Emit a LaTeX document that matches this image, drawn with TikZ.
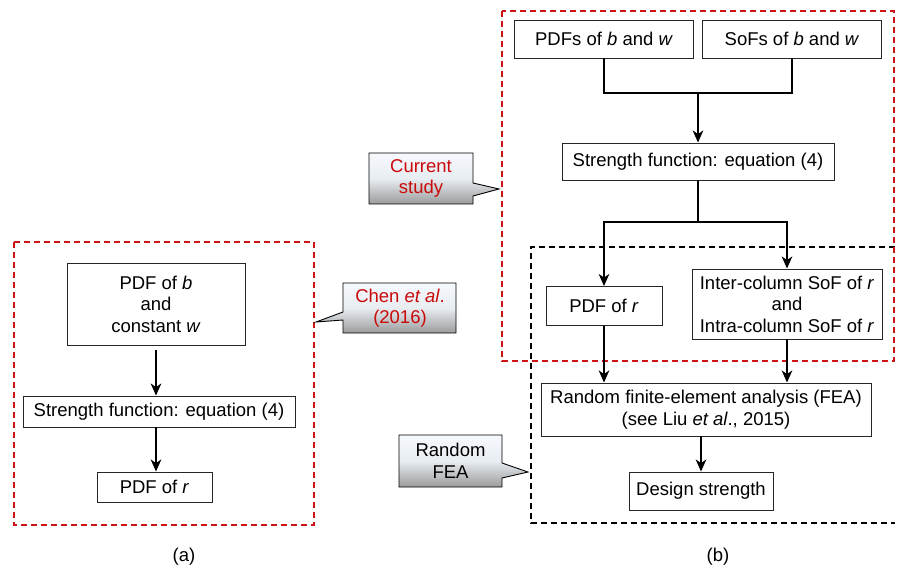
\documentclass[tikz,border=0pt]{standalone}
\usepackage{fontspec}
\setmainfont{Liberation Sans}
\usetikzlibrary{arrows.meta}
\definecolor{dashred}{RGB}{204,20,20}
\definecolor{txtred}{RGB}{200,10,10}
\definecolor{calltop}{RGB}{246,249,253}
\definecolor{callmid}{RGB}{232,237,242}
\definecolor{callbot}{RGB}{155,155,155}
\begin{document}
\begin{tikzpicture}[x=1pt,y=-1pt,
  every node/.style={font=\fontsize{18.5}{21.5}\selectfont, inner sep=0pt},
  box/.style={draw=black!85, line width=0.9pt, fill=white, align=center},
  conn/.style={line width=2.1pt},
  arr/.style={conn, -{Stealth[length=12pt,width=10.5pt,inset=3.5pt]}},
  reddash/.style={draw=dashred, line width=1.5pt, dash pattern=on 6pt off 4pt},
  blackdash/.style={draw=black, line width=1.5pt, dash pattern=on 6pt off 4pt},
  callout/.style={draw=black, line width=0.9pt, top color=calltop, bottom color=callbot, middle color=callmid},
  lbl/.style={align=center}
]
\useasboundingbox (0,0) rectangle (899,569);

% dashed frames
\draw[reddash] (14,242) rectangle (314,525);
\draw[blackdash] (895,247) -- (531,247) -- (531,523) -- (895,523);
\draw[reddash] (502,11) rectangle (894,361);

% (a) panel
\node[box, minimum width=178pt, minimum height=82pt] (lb1) at (156,304) {PDF of \textit{b}\\and\\constant \textit{w}};
\node[box, minimum width=272pt, minimum height=31pt] (ls) at (159,411.5) {Strength function: equation (4)};
\node[box, minimum width=115pt, minimum height=30pt] (lr) at (154.5,487) {PDF of \textit{r}};
\draw[arr] (lb1.south |- 0,350) -- (lb1.south |- ls.north);
\draw[arr] (lb1.south |- ls.south) -- (lb1.south |- lr.north);

% (b) panel
\node[box, minimum width=179pt, minimum height=38pt] (pdfs) at (604,39) {PDFs of \textit{b} and \textit{w}};
\node[box, minimum width=179pt, minimum height=38pt] (sofs) at (792,39) {SoFs of \textit{b} and \textit{w}};
\node[box, minimum width=272pt, minimum height=37pt] (rs) at (698,161.5) {Strength function: equation (4)};
\node[box, minimum width=116pt, minimum height=39pt] (pdfr) at (604,306) {PDF of \textit{r}};
\node[box, minimum width=190pt, minimum height=70pt] (inter) at (787,304) {Inter-column SoF of \textit{r}\\and\\Intra-column SoF of \textit{r}};
\node[box, minimum width=330pt, minimum height=53pt] (fea) at (706,409.5) {Random finite-element analysis (FEA)\\(see Liu \textit{et al}., 2015)};
\node[box, minimum width=144pt, minimum height=38pt] (design) at (701,491) {Design strength};

\coordinate (j1) at (rs.north |- 0,93);
\draw[conn] (pdfs.south) |- (j1) -| (sofs.south);
\draw[arr] (j1) -- (rs.north);
\coordinate (j2) at (rs.south |- 0,222);
\draw[conn] (rs.south) -- (j2);
\draw[arr] (j2) -| (pdfr.north);
\draw[arr] (j2) -| (inter.north);
\draw[arr] (pdfr.south) -- (pdfr.south |- fea.north);
\draw[arr] (inter.south) -- (inter.south |- fea.north);
\draw[arr] (design.north |- fea.south) -- (design.north);

% callouts
\path[callout] (369,153) -- (473,153) -- (473,183) -- (499,189) -- (473,196) -- (473,204) -- (369,204) -- cycle;
\node[lbl, text=txtred] (cur) at (421,178.5) {Current\\study};

\path[callout] (343,283) -- (456,283) -- (456,333) -- (343,333) -- (343,320) -- (316,322) -- (343,312) -- cycle;
\node[lbl, text=txtred] (chen) at (400,308) {Chen \textit{et al}.\\(2016)};

\path[callout] (399,435) -- (502,435) -- (502,463) -- (528,472) -- (502,478) -- (502,487) -- (399,487) -- cycle;
\node[lbl] (rfea) at (450.5,461) {Random\\FEA};

% panel labels
\node (la) at (184,557) {(a)};
\node (lb) at (718,557) {(b)};
\end{tikzpicture}
\end{document}
